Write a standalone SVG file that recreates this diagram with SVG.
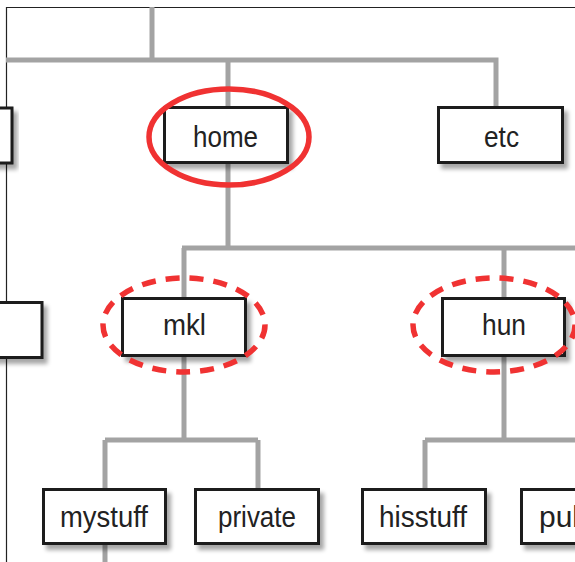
<svg xmlns="http://www.w3.org/2000/svg" width="575" height="562" viewBox="0 0 575 562">
<defs>
<filter id="sh" x="-20%" y="-30%" width="150%" height="170%">
<feGaussianBlur in="SourceAlpha" stdDeviation="2"/>
<feOffset dx="4" dy="5" result="b"/>
<feComponentTransfer><feFuncA type="linear" slope="0.35"/></feComponentTransfer>
<feMerge><feMergeNode/><feMergeNode in="SourceGraphic"/></feMerge>
</filter>
<style>
.conn{fill:none;stroke:#a3a3a3;stroke-width:5}
.box{fill:#fff;stroke:#1a1a1a;stroke-width:3;filter:url(#sh)}
.lbl{font-family:"Liberation Sans Narrow","Liberation Sans",Arial,sans-serif;font-size:30px;fill:#222}
.ring{fill:none;stroke:#f03232;stroke-width:5.5}
.dash{stroke-dasharray:14 10}
</style>
</defs>
<rect width="575" height="562" fill="#fff"/>
<path d="M6.5,562 V7.5 H575" fill="none" stroke="#222" stroke-width="1.2"/>
<g id="connectors">
<path class="conn" d="M152,7 V60 M6,60 H496 V107 M228,60 V107"/>
<path class="conn" d="M228,163 V248 M182,248 H575 M184,248 V298 M504,248 V298"/>
<path class="conn" d="M184,356 V440 M105,440 H258 M105,440 V489 M258,440 V489 M105,544 V562"/>
<path class="conn" d="M504,356 V440 M425,440 H575 M425,440 V489"/>
</g>
<g id="node-left-top"><rect class="box" x="-10" y="108" width="22" height="55"/></g>
<g id="node-home">
<rect class="box" x="164.5" y="107.5" width="123" height="55"/>
<text class="lbl" x="193" y="147" textLength="65" lengthAdjust="spacingAndGlyphs">home</text>
<ellipse class="ring" cx="229" cy="137" rx="80" ry="48"/>
</g>
<g id="node-etc">
<rect class="box" x="438.5" y="107.5" width="124" height="55"/>
<text class="lbl" x="484" y="147" textLength="35" lengthAdjust="spacingAndGlyphs">etc</text>
</g>
<g id="node-left-mid"><rect class="box" x="-10" y="302.5" width="52" height="55"/></g>
<g id="node-mkl">
<rect class="box" x="122.5" y="298.5" width="123" height="57"/>
<text class="lbl" x="163" y="335" textLength="43" lengthAdjust="spacingAndGlyphs">mkl</text>
<ellipse class="ring dash" cx="184" cy="325" rx="81" ry="47"/>
</g>
<g id="node-hun">
<rect class="box" x="442.5" y="298.5" width="122" height="57"/>
<text class="lbl" x="482" y="335" textLength="44" lengthAdjust="spacingAndGlyphs">hun</text>
<ellipse class="ring dash" cx="494" cy="325" rx="81" ry="47"/>
</g>
<g id="node-mystuff">
<rect class="box" x="43.5" y="489.5" width="122" height="54"/>
<text class="lbl" x="60" y="527" textLength="88" lengthAdjust="spacingAndGlyphs">mystuff</text>
</g>
<g id="node-private">
<rect class="box" x="195.5" y="489.5" width="123" height="54"/>
<text class="lbl" x="218" y="527" textLength="78" lengthAdjust="spacingAndGlyphs">private</text>
</g>
<g id="node-hisstuff">
<rect class="box" x="362.5" y="489.5" width="123" height="54"/>
<text class="lbl" x="379" y="527" textLength="88" lengthAdjust="spacingAndGlyphs">hisstuff</text>
</g>
<g id="node-pub">
<rect class="box" x="521.5" y="489.5" width="123" height="54"/>
<text class="lbl" x="539" y="527">pub</text>
</g>
</svg>
